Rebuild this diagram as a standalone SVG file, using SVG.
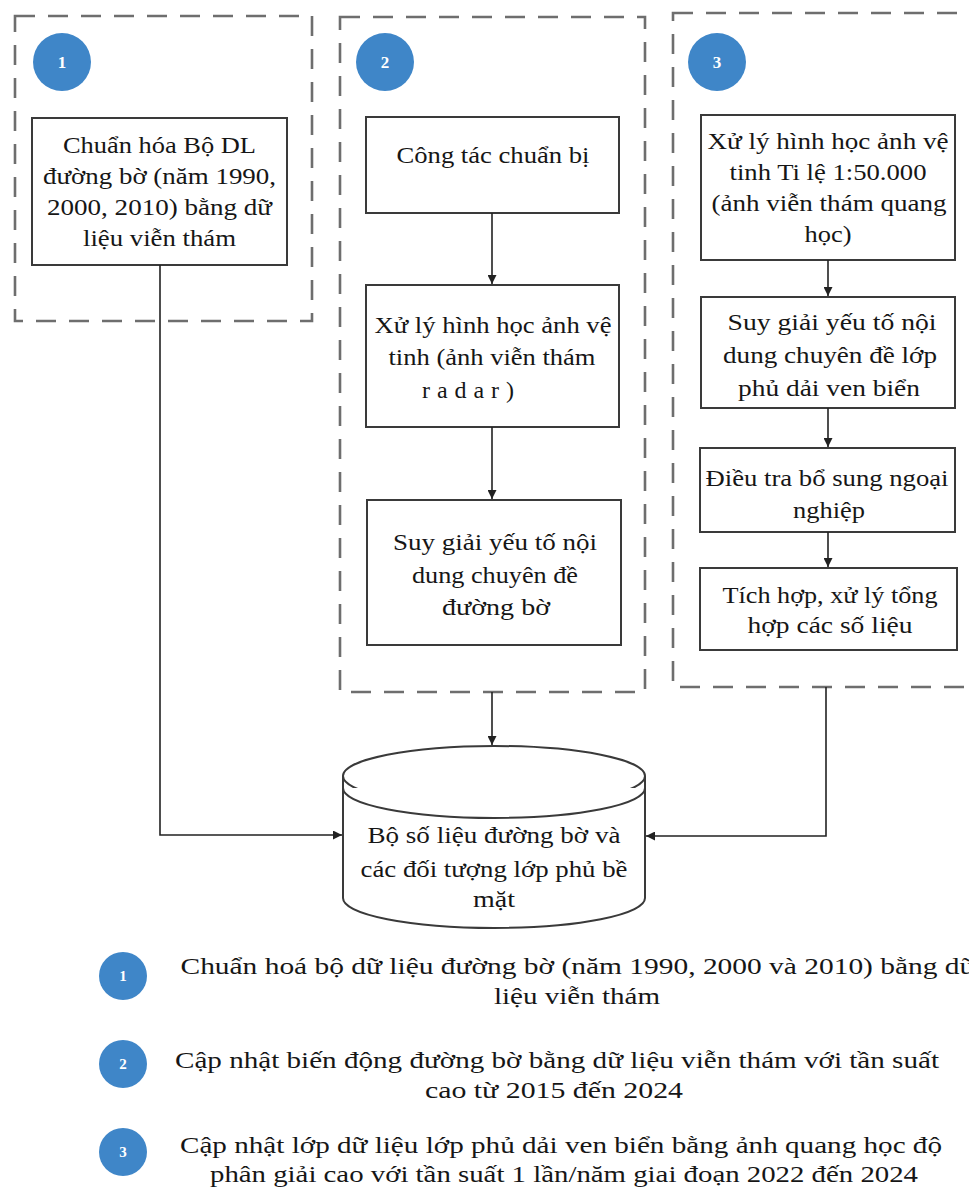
<svg xmlns="http://www.w3.org/2000/svg" width="969" height="1189" viewBox="0 0 969 1189">
  <style>
    .panel { fill: none; stroke: #6e6e6e; stroke-width: 2.6; stroke-dasharray: 20 13; }
    .box { fill: #ffffff; stroke: #3a3a3a; stroke-width: 2; }
    .cyl { fill: #ffffff; stroke: #3a3a3a; stroke-width: 2; }
    .t { font-family: "Liberation Serif", "Times New Roman", serif; font-size: 24px; fill: #161616; text-anchor: middle; }
    .lg { font-family: "Liberation Serif", "Times New Roman", serif; font-size: 24px; fill: #161616; text-anchor: middle; }
    .badge { fill: #3f86c8; }
    .num { font-family: "Liberation Serif", "Times New Roman", serif; font-weight: bold; font-size: 17px; fill: #ffffff; text-anchor: middle; }
    .numS { font-family: "Liberation Serif", "Times New Roman", serif; font-weight: bold; font-size: 15px; fill: #ffffff; text-anchor: middle; }
    .conn { fill: none; stroke: #222222; stroke-width: 1.6; }
  </style>
  <defs>
    <marker id="arrow" viewBox="0 0 10 10" refX="10" refY="5" markerWidth="9" markerHeight="9" markerUnits="userSpaceOnUse" orient="auto">
      <path d="M0,0 L10,5 L0,10 z" fill="#222222"/>
    </marker>
  </defs>

  <rect width="969" height="1189" fill="#ffffff"/>

  <!-- dashed group frames -->
  <g id="panel-1">
    <rect class="panel" x="15" y="16" width="297" height="305"/>
    <circle class="badge" cx="62" cy="62" r="29"/>
    <text class="num" x="62" y="68">1</text>
  </g>
  <g id="panel-2">
    <rect class="panel" x="340" y="17" width="305" height="675"/>
    <circle class="badge" cx="385" cy="62" r="29"/>
    <text class="num" x="385" y="68">2</text>
  </g>
  <g id="panel-3">
    <rect class="panel" x="673" y="13" width="320" height="674"/>
    <circle class="badge" cx="717" cy="62" r="29"/>
    <text class="num" x="717" y="68">3</text>
  </g>

  <!-- process boxes -->
  <g id="node-chuan-hoa">
    <rect class="box" x="32" y="118" width="255" height="147"/>
    <text class="t" x="159.5" y="153" textLength="193" lengthAdjust="spacingAndGlyphs">Chuẩn hóa Bộ DL</text>
    <text class="t" x="159.5" y="184" textLength="233" lengthAdjust="spacingAndGlyphs">đường bờ (năm 1990,</text>
    <text class="t" x="159.5" y="215" textLength="225" lengthAdjust="spacingAndGlyphs">2000, 2010) bằng dữ</text>
    <text class="t" x="159.5" y="246" textLength="153" lengthAdjust="spacingAndGlyphs">liệu viễn thám</text>
  </g>

  <g id="node-cong-tac">
    <rect class="box" x="366" y="117" width="253" height="96"/>
    <text class="t" x="493" y="163" textLength="193" lengthAdjust="spacingAndGlyphs">Công tác chuẩn bị</text>
  </g>

  <g id="node-xu-ly-radar">
    <rect class="box" x="366" y="285" width="253" height="142"/>
    <text class="t" x="493" y="333" textLength="237" lengthAdjust="spacingAndGlyphs">Xử lý hình học ảnh vệ</text>
    <text class="t" x="492" y="365" textLength="207" lengthAdjust="spacingAndGlyphs">tinh (ảnh viễn thám</text>
    <text class="t" x="468" y="398" textLength="92" lengthAdjust="spacing">radar)</text>
  </g>

  <g id="node-suy-giai-duong-bo">
    <rect class="box" x="367" y="500" width="254" height="145"/>
    <text class="t" x="495" y="550" textLength="204" lengthAdjust="spacingAndGlyphs">Suy giải yếu tố nội</text>
    <text class="t" x="495" y="583" textLength="166" lengthAdjust="spacingAndGlyphs">dung chuyên đề</text>
    <text class="t" x="496" y="615" textLength="108" lengthAdjust="spacingAndGlyphs">đường bờ</text>
  </g>

  <g id="node-xu-ly-quang-hoc">
    <rect class="box" x="701" y="115" width="254" height="145"/>
    <text class="t" x="828" y="149" textLength="241" lengthAdjust="spacingAndGlyphs">Xử lý hình học  ảnh vệ</text>
    <text class="t" x="828" y="180" textLength="197" lengthAdjust="spacingAndGlyphs">tinh Ti lệ 1:50.000</text>
    <text class="t" x="829" y="211" textLength="235" lengthAdjust="spacingAndGlyphs">(ảnh viễn thám  quang</text>
    <text class="t" x="828" y="242" textLength="47" lengthAdjust="spacingAndGlyphs">học)</text>
  </g>

  <g id="node-suy-giai-lop-phu">
    <rect class="box" x="701" y="297" width="254" height="111"/>
    <text class="t" x="832" y="330" textLength="209" lengthAdjust="spacingAndGlyphs">Suy giải yếu tố nội</text>
    <text class="t" x="830" y="363" textLength="214" lengthAdjust="spacingAndGlyphs">dung chuyên đề lớp</text>
    <text class="t" x="829" y="396" textLength="182" lengthAdjust="spacingAndGlyphs">phủ dải ven biển</text>
  </g>

  <g id="node-dieu-tra">
    <rect class="box" x="700" y="448" width="255" height="84"/>
    <text class="t" x="827" y="486" textLength="243" lengthAdjust="spacingAndGlyphs">Điều tra bổ sung ngoại</text>
    <text class="t" x="829" y="518" textLength="72" lengthAdjust="spacingAndGlyphs">nghiệp</text>
  </g>

  <g id="node-tich-hop">
    <rect class="box" x="700" y="568" width="257" height="82"/>
    <text class="t" x="830" y="603" textLength="215" lengthAdjust="spacingAndGlyphs">Tích hợp, xử lý tổng</text>
    <text class="t" x="830" y="633" textLength="165" lengthAdjust="spacingAndGlyphs">hợp các số liệu</text>
  </g>

  <!-- data store cylinder -->
  <g id="node-bo-so-lieu">
    <path class="cyl" d="M343,776 L343,898 A151,30 0 0 0 645,898 L645,776"/>
    <ellipse class="cyl" cx="494" cy="776" rx="151" ry="30"/>
    <path class="cyl" d="M343,788 A151,30 0 0 0 645,788" fill="none"/>
    <text class="t" x="494" y="843" textLength="253" lengthAdjust="spacingAndGlyphs">Bộ số liệu đường bờ và</text>
    <text class="t" x="494" y="877" textLength="267" lengthAdjust="spacingAndGlyphs">các đối tượng lớp phủ bề</text>
    <text class="t" x="494" y="907" textLength="42" lengthAdjust="spacingAndGlyphs">mặt</text>
  </g>

  <!-- connectors -->
  <g id="connectors">
    <path class="conn" d="M160,265 L160,835 L342,835" marker-end="url(#arrow)"/>
    <path class="conn" d="M492,213 L492,284" marker-end="url(#arrow)"/>
    <path class="conn" d="M492,427 L492,499" marker-end="url(#arrow)"/>
    <path class="conn" d="M492,692 L492,745" marker-end="url(#arrow)"/>
    <path class="conn" d="M828,260 L828,296" marker-end="url(#arrow)"/>
    <path class="conn" d="M828,408 L828,447" marker-end="url(#arrow)"/>
    <path class="conn" d="M828,532 L828,567" marker-end="url(#arrow)"/>
    <path class="conn" d="M826,687 L826,836 L646,836" marker-end="url(#arrow)"/>
  </g>

  <!-- legend -->
  <g id="legend-1">
    <circle class="badge" cx="123" cy="976" r="24"/>
    <text class="numS" x="123" y="981">1</text>
    <text class="lg" x="578" y="974" textLength="795" lengthAdjust="spacingAndGlyphs">Chuẩn hoá bộ dữ liệu đường bờ (năm 1990, 2000 và 2010) bằng dữ</text>
    <text class="lg" x="577" y="1004" textLength="166" lengthAdjust="spacingAndGlyphs">liệu viễn thám</text>
  </g>
  <g id="legend-2">
    <circle class="badge" cx="123" cy="1064" r="24"/>
    <text class="numS" x="123" y="1069">2</text>
    <text class="lg" x="557" y="1068" textLength="764" lengthAdjust="spacingAndGlyphs">Cập nhật biến động đường bờ bằng dữ liệu viễn thám với tần suất</text>
    <text class="lg" x="554" y="1098" textLength="258" lengthAdjust="spacingAndGlyphs">cao từ 2015 đến 2024</text>
  </g>
  <g id="legend-3">
    <circle class="badge" cx="123" cy="1152" r="24"/>
    <text class="numS" x="123" y="1157">3</text>
    <text class="lg" x="561" y="1153" textLength="762" lengthAdjust="spacingAndGlyphs">Cập nhật lớp dữ liệu lớp phủ dải ven biển bằng ảnh quang học độ</text>
    <text class="lg" x="564" y="1182" textLength="708" lengthAdjust="spacingAndGlyphs">phân giải cao với tần suất 1 lần/năm giai đoạn 2022 đến 2024</text>
  </g>
</svg>
